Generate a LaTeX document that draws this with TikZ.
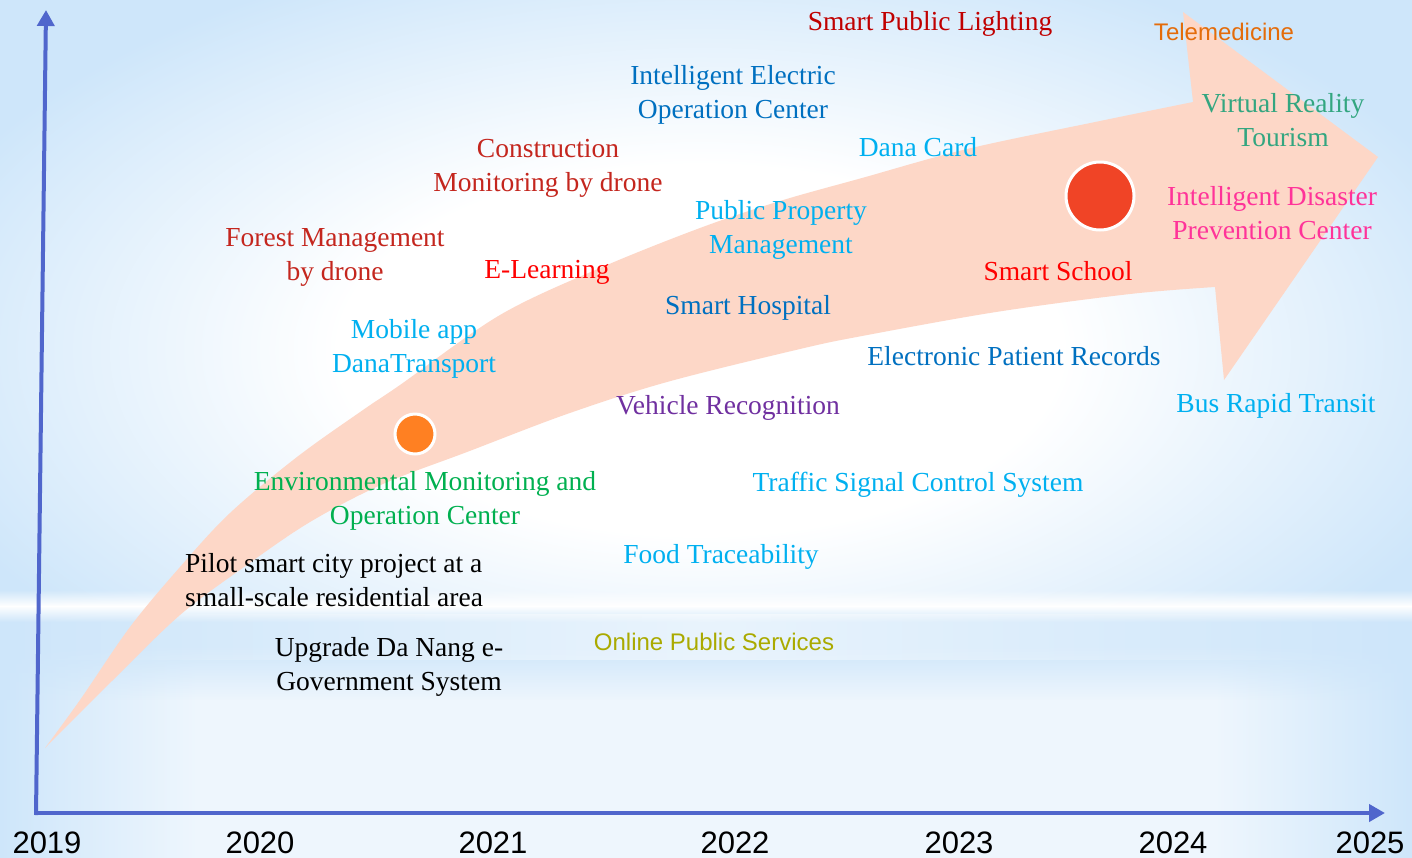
\documentclass[tikz,border=0pt]{standalone}
\usepackage{fontspec}
\setmainfont{Liberation Serif}
\newfontfamily\arialf{Liberation Sans}
\usetikzlibrary{arrows.meta,fadings}
\definecolor{bgblue}{RGB}{206,230,250}
\definecolor{bglight}{RGB}{238,246,253}
\definecolor{pinkarrow}{RGB}{253,215,199}
\definecolor{axisblue}{RGB}{80,102,204}
\definecolor{darkred}{RGB}{192,0,0}
\definecolor{brickred}{RGB}{196,38,30}
\definecolor{teleorange}{RGB}{228,108,10}
\definecolor{midblue}{RGB}{0,112,192}
\definecolor{lightblue}{RGB}{0,176,240}
\definecolor{vrgreen}{RGB}{51,166,128}
\definecolor{hotpink}{RGB}{255,51,153}
\definecolor{purpletxt}{RGB}{112,48,160}
\definecolor{greentxt}{RGB}{0,176,80}
\definecolor{olive}{RGB}{170,170,0}
\definecolor{dotorange}{RGB}{255,128,34}
\definecolor{dotred}{RGB}{240,68,38}
\pgfdeclareradialshading{glow}{\pgfpoint{0bp}{0bp}}{color(0bp)=(white); color(11bp)=(white); color(25bp)=(bgblue); color(50bp)=(bgblue)}
\pgfdeclarehorizontalshading{lowh}{100bp}{color(0bp)=(bgblue); color(25bp)=(bgblue); color(32bp)=(bglight); color(68bp)=(bglight); color(75bp)=(bgblue); color(100bp)=(bgblue)}
\tikzfading[name=vstreak, top color=transparent!100, bottom color=transparent!100, middle color=transparent!0]
\tikzfading[name=fadetop, top color=transparent!100, bottom color=transparent!0]
\tikzfading[name=midfade, left color=transparent!100, right color=transparent!100, middle color=transparent!45]
\begin{document}
\begin{tikzpicture}[x=1pt,y=-1pt,
  lbl/.style={font=\fontsize{27.5}{33.5}\selectfont, align=center, inner sep=0pt, anchor=base},
  lbll/.style={font=\fontsize{27.5}{33.5}\selectfont, align=left, inner sep=0pt, anchor=base west},
  slbl/.style={font=\arialf\fontsize{24}{28}\selectfont, inner sep=0pt, anchor=base},
  yr/.style={font=\arialf\fontsize{31}{36}\selectfont, inner sep=0pt, anchor=base},
  axisline/.style={line width=4pt, draw=axisblue, -{Triangle[length=16pt,width=17pt]}},
  dot/.style={circle, draw=white, line width=3pt, inner sep=0pt}]
\useasboundingbox (0,0) rectangle (1412,857);
% background
\fill[bgblue] (0,0) rectangle (1412,857);
\begin{scope}
  \clip (0,0) rectangle (1412,606);
  \shade[shading=glow] (700,350) ellipse [x radius=820, y radius=420];
\end{scope}
\fill[white, path fading=vstreak] (0,590) rectangle (1412,622);
\fill[white, path fading=midfade] (0,614) rectangle (1412,660);
\shade[shading=lowh, path fading=fadetop] (0,645) rectangle (1412,700);
\shade[shading=lowh] (0,700) rectangle (1412,857);
% big curved arrow
\fill[pinkarrow] plot[smooth, tension=0.55] coordinates {(45,748) (80,700) (130,627) (180,567) (230,513) (297,457) (363,410) (400,385) (500,315) (600,268) (700,228) (780,201) (862,178) (967,149) (1100,121) (1193,102)}
  -- (1183,12) -- (1378,157) -- (1224,380) -- (1215,287)
  -- plot[smooth, tension=0.55] coordinates {(1215,287) (1130,294) (996,312) (862,336) (800,349) (667,382) (567,414) (467,452) (383,484) (310,522) (244,567) (180,615) (113,680) (45,748)} -- cycle;
% axes
\coordinate (ytop) at (46,10);
\coordinate (xend) at (1385,813);
\draw[axisline] (36,815) -- (ytop);
\draw[axisline] (34,813) -- (xend);
% year labels
\node[yr] (y2019) at (47,853) {2019};
\node[yr] (y2020) at (260,853) {2020};
\node[yr] (y2021) at (493,853) {2021};
\node[yr] (y2022) at (735,853) {2022};
\node[yr] (y2023) at (959,853) {2023};
\node[yr] (y2024) at (1173,853) {2024};
\node[yr] (y2025) at (1370,853) {2025};
% dots
\node[dot, fill=dotorange, minimum size=40pt] (dot1) at (415,434) {};
\node[dot, fill=dotred, minimum size=68pt] (dot2) at (1100,196) {};
% labels (multi-line nodes: base = last line baseline)
\node[lbl, text=darkred] (spl) at (930,30) {Smart Public Lighting};
\node[slbl, text=teleorange] (tele) at (1224,40) {Telemedicine};
\node[lbl, text=midblue] (ieoc) at (733,118) {Intelligent Electric\\Operation Center};
\node[lbl, text=vrgreen] (vrt) at (1283,146) {Virtual Reality\\Tourism};
\node[lbl, text=brickred] (cmd) at (548,191) {Construction\\Monitoring by drone};
\node[lbl, text=lightblue] (dana) at (918,156) {Dana Card};
\node[lbl, text=lightblue] (ppm) at (781,253) {Public Property\\Management};
\node[lbl, text=hotpink] (idpc) at (1272,239) {Intelligent Disaster\\Prevention Center};
\node[lbl, text=brickred] (fmd) at (335,280) {Forest Management\\by drone};
\node[lbl, text=red] (elearn) at (547,278) {E-Learning};
\node[lbl, text=red] (school) at (1058,280) {Smart School};
\node[lbl, text=midblue] (hosp) at (748,314) {Smart Hospital};
\node[lbl, text=lightblue] (mobile) at (414,372) {Mobile app\\DanaTransport};
\node[lbl, text=midblue] (epr) at (1014,365) {Electronic Patient Records};
\node[lbl, text=lightblue] (brt) at (1276,412) {Bus Rapid Transit};
\node[lbl, text=purpletxt] (vrec) at (728,414) {Vehicle Recognition};
\node[lbl, text=greentxt] (emoc) at (425,524) {Environmental Monitoring and\\Operation Center};
\node[lbl, text=lightblue] (tscs) at (918,491) {Traffic Signal Control System};
\node[lbl, text=lightblue] (food) at (721,563) {Food Traceability};
\node[lbll, text=black] (pilot) at (185,606) {Pilot smart city project at a\\small-scale residential area};
\node[lbl, text=black] (egov) at (389,690) {Upgrade Da Nang e-\\Government System};
\node[slbl, text=olive] (ops) at (714,650) {Online Public Services};
\end{tikzpicture}
\end{document}
